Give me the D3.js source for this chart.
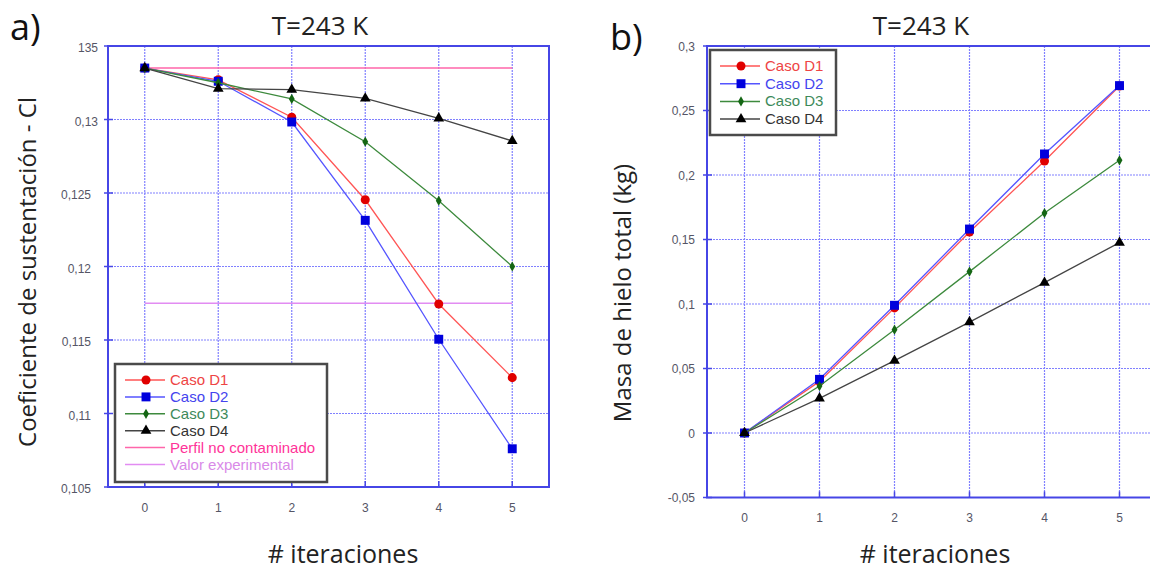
<!DOCTYPE html>
<html>
<head>
<meta charset="utf-8">
<script src="https://cdn.jsdelivr.net/npm/d3@7"></script>
<style>
  body { margin: 0; background: #fff; }
  svg { display: block; }
</style>
</head>
<body>
<svg id="chart" width="1150" height="571"></svg>
<script>
const iterations = [0, 1, 2, 3, 4, 5]

// panel a) lift coefficient
const clD1 = [0.1335, 0.1327, 0.13015, 0.12454, 0.11745, 0.11244]
const clD2 = [0.1335, 0.1326, 0.12983, 0.12314, 0.11505, 0.1076]
const clD3 = [0.1335, 0.1325, 0.1314, 0.12849, 0.12448, 0.12]
const clD4 = [0.1335, 0.1321, 0.13203, 0.13144, 0.13008, 0.12854]
const clClean = 0.1335
const clExperimental = 0.1175
const clTicks = [0.105, 0.11, 0.115, 0.12, 0.125, 0.13, 0.135]
const clTickLabels = ['0,105', '0,11', '0,115', '0,12', '0,125', '0,13', '135']

// panel b) total ice mass (kg)
const iceD1 = [0, 0.040, 0.097, 0.1558, 0.2108, 0.2690]
const iceD2 = [0, 0.0416, 0.099, 0.1581, 0.2163, 0.2693]
const iceD3 = [0, 0.0364, 0.0801, 0.1251, 0.1705, 0.2114]
const iceD4 = [0, 0.0269, 0.0561, 0.0860, 0.1166, 0.1476]
const iceTicks = [-0.05, 0, 0.05, 0.1, 0.15, 0.2, 0.25, 0.3]
const iceTickLabels = ['-0,05', '0', '0,05', '0,1', '0,15', '0,2', '0,25', '0,3']

const caseNames = ['Caso D1', 'Caso D2', 'Caso D3', 'Caso D4']

const styles = [
    {line: '#ff5555', marker: '#e00000', text: '#ee4444', shape: d3.symbolCircle, size: 64},
    {line: '#5555ff', marker: '#0000dd', text: '#4444ee', shape: d3.symbolSquare, size: 80},
    {line: '#3d8a3d', marker: '#146614', text: '#3d8a5a', shape: d3.symbolDiamond, size: 30},
    {line: '#444444', marker: '#000000', text: '#333333', shape: d3.symbolTriangle, size: 50}]

const svg = d3.select('#chart')
const tickFont = '"Liberation Sans", Arial, sans-serif'
const titleFont = '"Open Sans", "Noto Sans", sans-serif'

function drawPanel(opts) {
    const {left, top, width, height, xDomain, yDomain, yTicks, yLabels, series} = opts
    const g = svg.append('g')

    const x = d3.scaleLinear().domain(xDomain).range([left, left + width])
    const y = d3.scaleLinear().domain(yDomain).range([top + height, top])

    // grid
    g.selectAll('.vgrid').data(iterations).enter().append('line')
        .attr('x1', d => x(d)).attr('x2', d => x(d))
        .attr('y1', top).attr('y2', top + height)
        .attr('stroke', '#8080ff').attr('stroke-width', 1.2)
        .attr('stroke-dasharray', '2,1')
    g.selectAll('.hgrid').data(yTicks).enter().append('line')
        .attr('x1', left).attr('x2', left + width)
        .attr('y1', d => y(d)).attr('y2', d => y(d))
        .attr('stroke', '#8080ff').attr('stroke-width', 1.2)
        .attr('stroke-dasharray', '2,1')

    // frame
    g.append('rect')
        .attr('x', left).attr('y', top)
        .attr('width', width).attr('height', height)
        .attr('fill', 'none')
        .attr('stroke', '#4646e6').attr('stroke-width', 2)

    // tick marks
    g.selectAll('.yt').data(yTicks).enter().append('line')
        .attr('x1', left - 4).attr('x2', left + 5)
        .attr('y1', d => y(d)).attr('y2', d => y(d))
        .attr('stroke', '#4646e6').attr('stroke-width', 1.5)
    g.selectAll('.xt').data(iterations).enter().append('line')
        .attr('x1', d => x(d)).attr('x2', d => x(d))
        .attr('y1', top + height).attr('y2', top + height - 6)
        .attr('stroke', '#4646e6').attr('stroke-width', 1.5)

    // tick labels
    g.selectAll('.yl').data(yTicks).enter().append('text')
        .attr('x', d => left - opts.yLabelGap(d)).attr('y', d => y(d) + opts.yLabelDy)
        .attr('text-anchor', 'end')
        .attr('font-family', tickFont).attr('font-size', 12)
        .attr('fill', '#555566')
        .text((d, i) => yLabels[i])
    g.selectAll('.xl').data(iterations).enter().append('text')
        .attr('x', d => x(d)).attr('y', opts.xLabelY)
        .attr('text-anchor', 'middle')
        .attr('font-family', tickFont).attr('font-size', 12)
        .attr('fill', '#555566')
        .text(d => d)

    // reference lines
    ;(opts.refLines || []).forEach(r => {
        g.append('line')
            .attr('x1', x(0)).attr('x2', x(5))
            .attr('y1', y(r.value)).attr('y2', y(r.value))
            .attr('stroke', r.color).attr('stroke-width', 1.5)
    })

    // series
    const line = d3.line().x((d, i) => x(iterations[i])).y(d => y(d))
    series.forEach((vals, s) => {
        const st = styles[s]
        g.append('path')
            .attr('d', line(vals))
            .attr('fill', 'none')
            .attr('stroke', st.line).attr('stroke-width', 1.3)
        g.selectAll('.m' + s).data(vals).enter().append('path')
            .attr('d', d3.symbol().type(st.shape).size(st.size))
            .attr('transform', (d, i) => `translate(${x(iterations[i])},${y(d)})`)
            .attr('fill', st.marker)
    })

    // legend
    const lg = opts.legend
    const items = caseNames.map((n, i) => ({name: n, style: styles[i]}))
        .concat((opts.refLines || []).map(r => ({name: r.name, ref: r})))
    g.append('rect')
        .attr('x', lg.x).attr('y', lg.y)
        .attr('width', lg.w).attr('height', lg.h)
        .attr('fill', '#fff')
        .attr('stroke', '#4a4a4a').attr('stroke-width', 2.5)
    items.forEach((it, i) => {
        const yy = lg.y + 16 + i * lg.step
        const color = it.ref ? it.ref.color : it.style.line
        g.append('line')
            .attr('x1', lg.x + 10).attr('x2', lg.x + 50)
            .attr('y1', yy).attr('y2', yy)
            .attr('stroke', color).attr('stroke-width', 1.5)
        if (!it.ref) {
            g.append('path')
                .attr('d', d3.symbol().type(it.style.shape).size(it.style.size))
                .attr('transform', `translate(${lg.x + 31},${yy})`)
                .attr('fill', it.style.marker)
        }
        g.append('text')
            .attr('x', lg.x + 55).attr('y', yy + 5)
            .attr('font-family', tickFont).attr('font-size', 15)
            .attr('fill', it.ref ? it.ref.text : it.style.text)
            .text(it.name)
    })

    // titles
    g.append('text')
        .attr('x', opts.titleX).attr('y', 35)
        .attr('text-anchor', 'middle')
        .attr('font-family', titleFont).attr('font-size', 26)
        .attr('fill', '#222')
        .text('T=243 K')
    g.append('text')
        .attr('x', opts.letterX).attr('y', opts.letterY)
        .attr('font-family', titleFont).attr('font-size', 36)
        .attr('fill', '#111')
        .text(opts.letter)
    g.append('text')
        .attr('x', opts.xTitleX).attr('y', 563)
        .attr('text-anchor', 'middle')
        .attr('font-family', titleFont).attr('font-size', 25)
        .attr('fill', '#222')
        .text('# iteraciones')
    g.append('text')
        .attr('transform', `translate(${opts.yTitleX},${opts.yTitleY}) rotate(-90)`)
        .attr('text-anchor', 'middle')
        .attr('font-family', titleFont).attr('font-size', 24)
        .attr('fill', '#222')
        .text(opts.yTitle)
}

drawPanel({
    left: 108, top: 46, width: 441, height: 441,
    xDomain: [-0.5, 5.5], yDomain: [0.105, 0.135],
    yTicks: clTicks, yLabels: clTickLabels,
    yLabelGap: d => d >= 0.13 ? 10 : 17, yLabelDy: 6,
    series: [clD1, clD2, clD3, clD4],
    refLines: [
        {value: clClean, color: '#ff66aa', text: '#ff3399', name: 'Perfil no contaminado'},
        {value: clExperimental, color: '#e28cf2', text: '#d98ae8', name: 'Valor experimental'}],
    legend: {x: 115, y: 364, w: 212, h: 118, step: 16.9},
    xLabelY: 512, titleX: 320,
    letter: 'a)', letterX: 10, letterY: 40,
    xTitleX: 343, yTitleX: 36, yTitleY: 272,
    yTitle: 'Coeficiente de sustentación - Cl'
})

drawPanel({
    left: 707, top: 46, width: 450, height: 451.5,
    xDomain: [-0.5, 5.5], yDomain: [-0.05, 0.3],
    yTicks: iceTicks, yLabels: iceTickLabels,
    yLabelGap: d => 12, yLabelDy: 4.5,
    series: [iceD1, iceD2, iceD3, iceD4],
    legend: {x: 710, y: 50, w: 126, h: 85, step: 17.7},
    xLabelY: 522, titleX: 921,
    letter: 'b)', letterX: 610, letterY: 50,
    xTitleX: 935, yTitleX: 631, yTitleY: 293,
    yTitle: 'Masa de hielo total (kg)'
})
</script>
</body>
</html>
